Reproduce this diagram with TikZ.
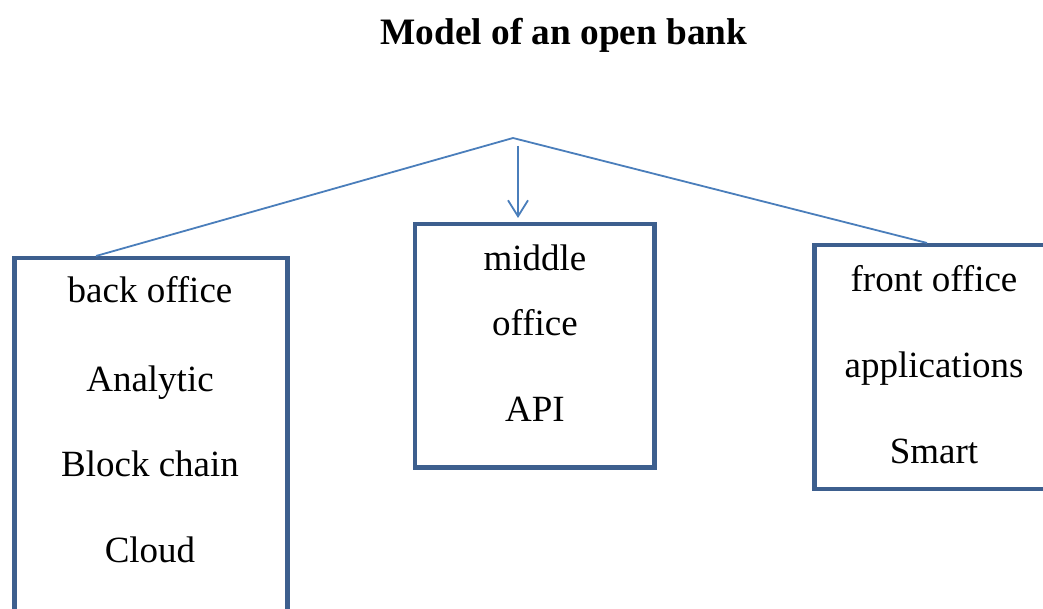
\documentclass[tikz,border=0pt]{standalone}
\usepackage{fontspec}
\setmainfont{Liberation Serif}
\usetikzlibrary{arrows.meta}
\definecolor{boxblue}{HTML}{3D5F8E}
\definecolor{linkblue}{HTML}{4A7EBB}
\tikzset{
  unit/.style={draw=boxblue, line width=4.5pt, minimum width=#1, anchor=north west, inner sep=0pt, outer sep=0pt},
  lbl/.style={anchor=base, inner sep=0pt, font=\fontsize{37}{40}\selectfont},
  link/.style={draw=linkblue, line width=1.8pt},
  ttl/.style={anchor=base, inner sep=0pt, font=\fontsize{37.3}{40}\selectfont\bfseries}
}
\begin{document}
\begin{tikzpicture}[x=1pt,y=-1pt]
\useasboundingbox[fill=white] (0,0) rectangle (1043,609);
\begin{scope}
\clip (0,0) rectangle (1043,609);

% title
\node[ttl] (title) at (564,45) {Model of an open bank};

% the three office blocks
\node[unit=273pt, minimum height=420pt] (back) at (14.5,258) {};
\node[unit=239.5pt, minimum height=243.5pt] (middle) at (415,224) {};
\node[unit=260pt, minimum height=244pt] (front) at (814.5,245) {};

% back office texts
\node[lbl] (b1) at (150,303) {back office};
\node[lbl] (b2) at (150,391) {Analytic};
\node[lbl] (b3) at (150,476) {Block chain};
\node[lbl] (b4) at (150,562) {Cloud};

% middle office texts
\node[lbl] (m1) at (535,271) {middle};
\node[lbl] (m2) at (535,335) {office};
\node[lbl] (m3) at (535,421) {API};

% front office texts
\node[lbl] (f1) at (934,292) {front office};
\node[lbl] (f2) at (934,377) {applications};
\node[lbl] (f3) at (934,463) {Smart};

% connectors
\coordinate (apex) at (513,138);
\coordinate (backtop) at (96,256);
\coordinate (fronttop) at (927,243);
\coordinate (arrowstart) at (518,146);
\draw[link] (backtop) -- (apex) -- (fronttop);
\draw[link, shorten >=6pt, -{Straight Barb[length=16pt, width=20pt, line width=1.8pt]}] (arrowstart) -- (middle.north -| arrowstart);
\end{scope}
\end{tikzpicture}
\end{document}
